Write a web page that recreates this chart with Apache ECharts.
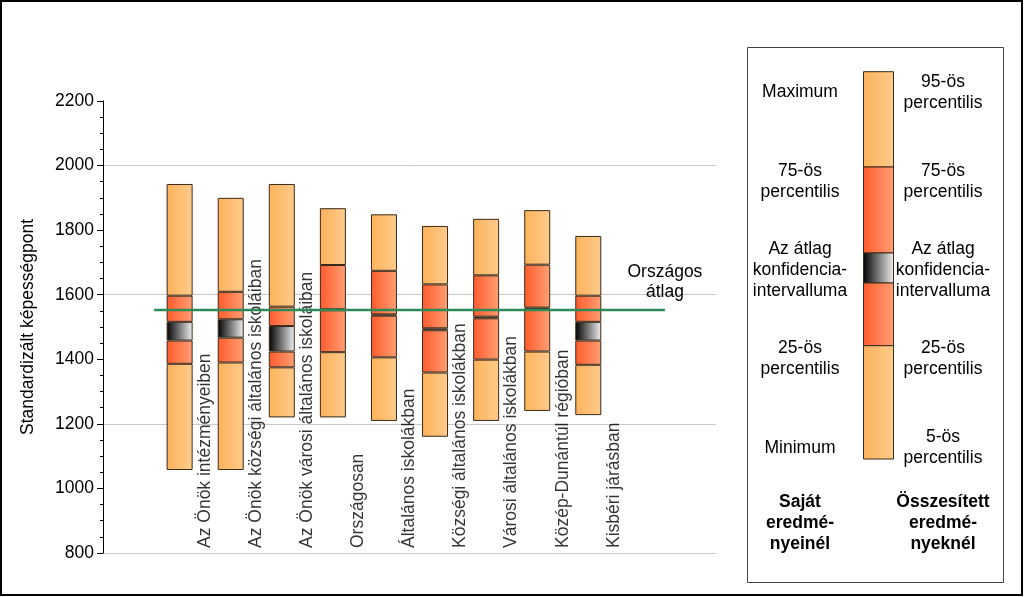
<!DOCTYPE html>
<html>
<head>
<meta charset="utf-8">
<script src="https://cdn.jsdelivr.net/npm/echarts@6/dist/echarts.min.js"></script>
<style>
html,body{margin:0;padding:0;background:#fff;}
#chart{width:1024px;height:597px;}
</style>
</head>
<body>
<div id="chart"></div>
<script>
// ---- data ----
const categories = ['Az Önök intézményeiben', 'Az Önök községi általános iskoláiban', 'Az Önök városi általános iskoláiban', 'Országosan', 'Általános iskolákban', 'Községi általános iskolákban', 'Városi általános iskolákban', 'Közép-Dunántúl régióban', 'Kisbéri járásban'];
const minValues    = [1057, 1057, 1220, 1220, 1209, 1160, 1209, 1240, 1227];
const p25Values    = [1386, 1390, 1375, 1422, 1406, 1359, 1399, 1424, 1383];
const ciLowValues  = [1458, 1467, 1424, 1552, 1535, 1490, 1527, 1556, 1458];
const ciHighValues = [1516, 1524, 1503, 1555, 1539, 1496, 1532, 1560, 1516];
const p75Values    = [1597, 1609, 1563, 1692, 1674, 1632, 1660, 1693, 1597];
const maxValues    = [1943, 1900, 1943, 1868, 1849, 1813, 1835, 1862, 1782];
const nationalAverage = 1553;
const nationalLabel = 'Országos\nátlag';
const yAxisName = 'Standardizált képességpont';
const yMin = 800, yMax = 2200, yInterval = 200;
const legendLeft = [['Maximum'], ['75-ös', 'percentilis'], ['Az átlag', 'konfidencia-', 'intervalluma'], ['25-ös', 'percentilis'], ['Minimum']];
const legendRight = [['95-ös', 'percentilis'], ['75-ös', 'percentilis'], ['Az átlag', 'konfidencia-', 'intervalluma'], ['25-ös', 'percentilis'], ['5-ös', 'percentilis']];
const legendFootLeft = ['Saját', 'eredmé-', 'nyeinél'];
const legendFootRight = ['Összesített', 'eredmé-', 'nyeknél'];

// ---- layout helpers ----
const SLOTS = 12, OFFSET = 1;
const FONT = '"Liberation Sans", Arial, sans-serif';
const FS = 17.5;
function slot(arr) {
  const out = new Array(SLOTS).fill('-');
  arr.forEach((v, i) => { out[i + OFFSET] = v; });
  return out;
}
function grad(c0, c1) {
  return { type: 'linear', x: 0, y: 0, x2: 1, y2: 0, colorStops: [{ offset: 0, color: c0 }, { offset: 1, color: c1 }] };
}
const light = grad('#FDB25A', '#FFCB8C');
const dark = grad('#FF5B2C', '#FF9F74');
const ci = grad('#000000', '#F2F2F2');
const border = '#3a2a1a';

const segs = [
  { name: 'base', data: minValues, color: 'transparent', bw: 0 },
  { name: 'p5-p25', data: p25Values.map((v, i) => v - minValues[i]), color: light, bw: 1 },
  { name: 'p25-ci', data: ciLowValues.map((v, i) => v - p25Values[i]), color: dark, bw: 1 },
  { name: 'ci', data: ciHighValues.map((v, i) => v - ciLowValues[i]), color: ci, bw: 1 },
  { name: 'ci-p75', data: p75Values.map((v, i) => v - ciHighValues[i]), color: dark, bw: 1 },
  { name: 'p75-p95', data: maxValues.map((v, i) => v - p75Values[i]), color: light, bw: 1 }
];

const series = segs.map(s => ({
  type: 'bar', name: s.name, stack: 'box', xAxisIndex: 0, yAxisIndex: 0,
  barWidth: 26, silent: true, z: 2,
  itemStyle: { color: s.color, borderColor: s.bw ? border : 'transparent', borderWidth: s.bw },
  data: slot(s.data)
}));

series.push({
  type: 'line', xAxisIndex: 1, yAxisIndex: 0, z: 5, silent: true,
  symbol: 'circle', symbolSize: 0, showSymbol: true,
  lineStyle: { color: '#2E8B57', width: 2.5 },
  data: [
    [OFFSET, nationalAverage],
    { value: [OFFSET + categories.length + 1, nationalAverage],
      label: { show: true, position: 'top', distance: 8, formatter: nationalLabel,
               fontFamily: FONT, fontSize: FS, lineHeight: 20, color: '#000', align: 'center' } }
  ]
});

series.push({
  type: 'scatter', xAxisIndex: 1, yAxisIndex: 0, z: 4, silent: true,
  symbolSize: 0,
  data: categories.map((c, i) => [OFFSET + i + 1, yMin]),
  label: {
    show: true, position: 'inside', rotate: 90, align: 'left', verticalAlign: 'middle',
    offset: [5, 0],
    formatter: p => categories[p.dataIndex],
    fontFamily: FONT, fontSize: FS, color: '#000'
  }
});

// ---- legend graphic ----
const graphic = [];
graphic.push({ type: 'rect', shape: { x: 1, y: 1, width: 1021, height: 594 }, style: { fill: 'none', stroke: '#000', lineWidth: 2 }, silent: true });
graphic.push({ type: 'rect', shape: { x: 747.5, y: 47.5, width: 256, height: 535 }, style: { fill: 'none', stroke: '#444', lineWidth: 1 }, silent: true });
const lb = [[71.7, 167, light], [167, 253, dark], [253, 283, ci], [283, 345.7, dark], [345.7, 459, light]];
lb.forEach(([y0, y1, c]) => {
  graphic.push({ type: 'rect', shape: { x: 863.5, y: y0, width: 30, height: y1 - y0 }, style: { fill: c, stroke: border, lineWidth: 1 }, silent: true });
});
const leftY = [92, 181.5, 270.5, 359, 448];
const rightY = [92.5, 181.5, 270.5, 359, 448];
function txt(lines, x, y, bold) {
  graphic.push({ type: 'text', x: x, y: y, silent: true,
    style: { text: lines.join('\n'), fill: '#000', font: (bold ? 'bold ' : '') + FS + 'px ' + FONT,
             textAlign: 'center', textVerticalAlign: 'middle', lineHeight: 21 } });
}
legendLeft.forEach((l, i) => txt(l, 800, leftY[i], false));
legendRight.forEach((l, i) => txt(l, 943, rightY[i], false));
txt(legendFootLeft, 800, 523.5, true);
txt(legendFootRight, 943, 523.5, true);

const chart = echarts.init(document.getElementById('chart'), null, { renderer: 'canvas' });
chart.setOption({
  animation: false,
  backgroundColor: '#fff',
  grid: { left: 103, right: 308, top: 101, bottom: 44, containLabel: false },
  xAxis: [
    { type: 'category', data: slot(categories).map(v => v === '-' ? '' : v), show: false, boundaryGap: true },
    { type: 'value', min: 0, max: SLOTS, show: false }
  ],
  yAxis: [{
    type: 'value', min: yMin, max: yMax, interval: yInterval,
    name: yAxisName, nameLocation: 'middle', nameGap: 66, nameRotate: 90,
    nameTextStyle: { fontFamily: FONT, fontSize: FS, color: '#000' },
    axisLine: { show: true, lineStyle: { color: '#000', width: 1 } },
    axisTick: { show: true, inside: false, length: 6, lineStyle: { color: '#000' } },
    minorTick: { show: true, splitNumber: 4, length: 3, lineStyle: { color: '#000' } },
    axisLabel: { fontFamily: FONT, fontSize: FS, color: '#000', margin: 9, formatter: v => String(v) },
    splitLine: { show: true, lineStyle: { color: ['#C8C8C8', 'rgba(0,0,0,0)'], width: 1 } }
  }],
  series: series,
  graphic: graphic
});
</script>
</body>
</html>
